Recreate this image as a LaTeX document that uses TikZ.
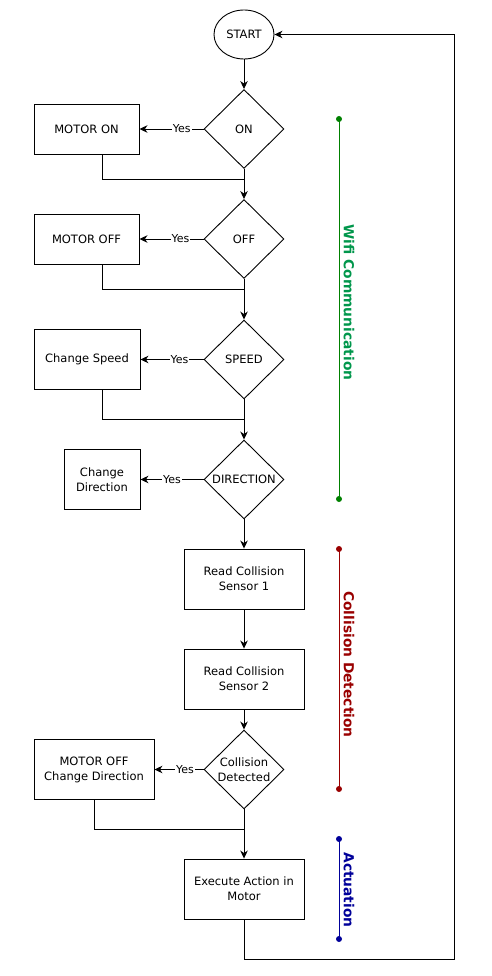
\documentclass[tikz,border=0pt]{standalone}
\usepackage{fontspec}
\setmainfont{DejaVu Sans}
\usetikzlibrary{shapes.geometric}
\usetikzlibrary{arrows.meta}

\definecolor{wifiline}{RGB}{0,128,0}
\definecolor{wifitext}{RGB}{0,150,75}
\definecolor{colred}{RGB}{153,0,0}
\definecolor{actblue}{RGB}{0,0,153}

\begin{document}
\begin{tikzpicture}[x=1pt,y=1pt,
	font=\fontsize{11.5}{15}\selectfont,
	>={Stealth[length=8pt,width=7.5pt,inset=2.5pt]},
	line width=0.9pt,
	box/.style={rectangle,draw=black,align=center,inner sep=0pt,minimum height=60pt},
	decision/.style={diamond,draw=black,align=center,inner sep=0pt,minimum width=80pt,minimum height=79pt},
	yes/.style={fill=white,inner sep=1pt,font=\fontsize{11}{13}\selectfont},
	group/.style={rotate=-90,font=\bfseries\fontsize{13.8}{16}\selectfont}]
			\useasboundingbox (0,0) rectangle (492,-976);
			\node[ellipse,draw=black,minimum width=60pt,minimum height=49pt,inner sep=0pt] (start) at (244,-34.5) {START};
			\node[decision] (on) at (244,-129) {ON};
			\node[box,minimum width=105pt,minimum height=50pt] (motoron) at (86.5,-129) {MOTOR ON};
			\node[decision] (off) at (244,-239) {OFF};
			\node[box,minimum width=105pt,minimum height=50pt] (motoroff) at (86.5,-239) {MOTOR OFF};
			\node[decision] (speed) at (244,-359.5) {SPEED};
			\node[box,minimum width=106pt] (chspeed) at (87,-359.5) {Change Speed};
			\node[decision] (direction) at (244,-479.5) {DIRECTION};
			\node[box,minimum width=76pt] (chdir) at (102,-479.5) {Change\\Direction};
			\node[box,minimum width=120pt] (sensor1) at (244,-579) {Read Collision\\Sensor 1};
			\node[box,minimum width=120pt] (sensor2) at (244,-679) {Read Collision\\Sensor 2};
			\node[decision] (collision) at (244,-769.5) {Collision\\Detected};
			\node[box,minimum width=120pt] (stopturn) at (94,-769.5) {MOTOR OFF\\Change Direction};
			\node[box,minimum width=120pt] (execute) at (244,-889) {Execute Action in\\Motor};
			\coordinate (j1) at (244,-179);
			\coordinate (j2) at (244,-289);
			\coordinate (j3) at (244,-419);
			\coordinate (j4) at (244,-829);
			\coordinate (loop) at (454,-959);
			\draw[->] (start) -- (on);
			\draw[->] (on) -- node[yes,pos=0.34] {Yes} (motoron);
			\draw ([xshift=15.5pt]motoron.south) |- (j1);
			\draw[->] (on) -- (off);
			\draw[->] (off) -- node[yes,pos=0.36] {Yes} (motoroff);
			\draw ([xshift=15.5pt]motoroff.south) |- (j2);
			\draw[->] (off) -- (speed);
			\draw[->] (speed) -- node[yes,pos=0.38] {Yes} (chspeed);
			\draw ([xshift=15.5pt]chspeed.south) |- (j3);
			\draw[->] (speed) -- (direction);
			\draw[->] (direction) -- node[yes,pos=0.5] {Yes} (chdir);
			\draw[->] (direction) -- (sensor1);
			\draw[->] (sensor1) -- (sensor2);
			\draw[->] (sensor2) -- (collision);
			\draw[->] (collision) -- node[yes,pos=0.38] {Yes} (stopturn);
			\draw (stopturn.south) |- (j4);
			\draw[->] (collision) -- (execute);
			\draw[->] (execute) |- (loop) |- (start);
			% stage markers
			\foreach \top/\bot/\col in {119/499/wifiline, 549/789/colred, 839/939/actblue} {
				\draw[\col,line width=0.8pt] (339,-\top) -- (339,-\bot);
				\fill[\col] (339,-\top) circle (3pt) (339,-\bot) circle (3pt);
			}
			\node[group,text=wifitext] (wifi) at (349,-302.5) {Wifi Communication};
			\node[group,text=colred] (coll) at (349,-664.5) {Collision Detection};
			\node[group,text=actblue] (act) at (349,-890) {Actuation};
		\end{tikzpicture}
\end{document}
